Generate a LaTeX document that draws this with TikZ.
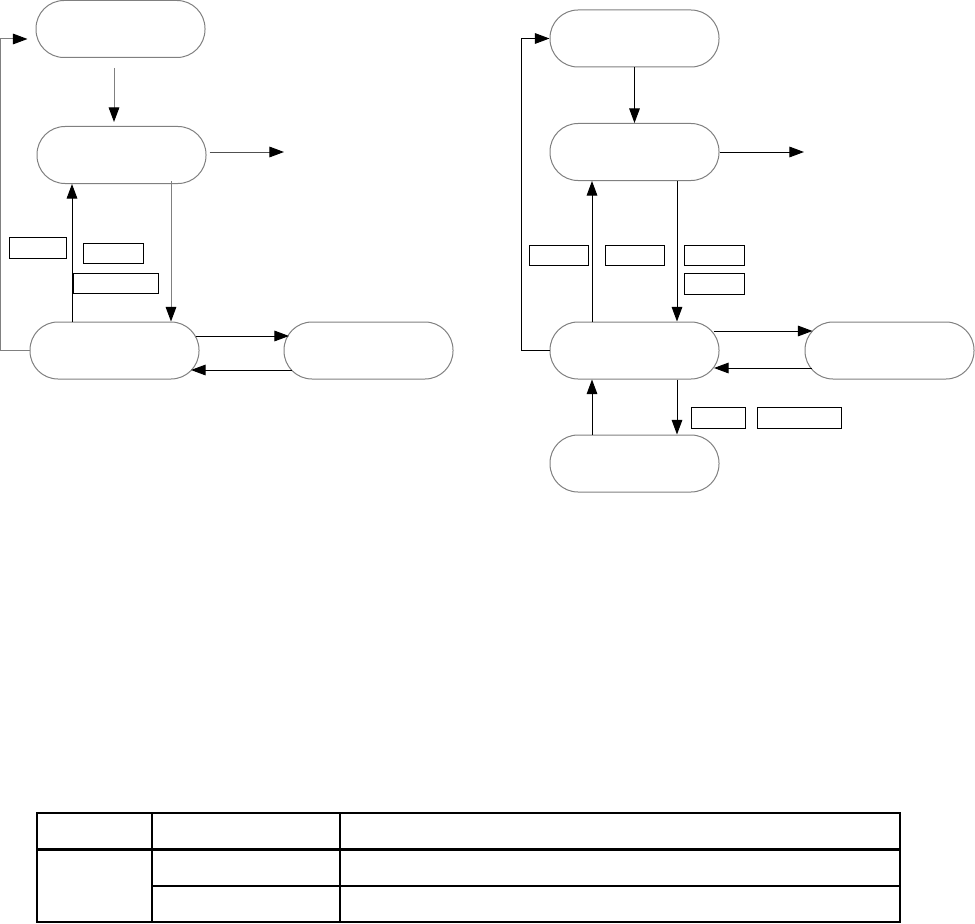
\documentclass[tikz,border=0pt]{standalone}
\usetikzlibrary{arrows.meta,calc}
\definecolor{lgray}{HTML}{808080}
\definecolor{dgray}{HTML}{505050}
\tikzset{
  state/.style={draw=lgray,line width=0.75pt,rectangle,rounded corners=21pt,minimum width=126.75pt,minimum height=42.75pt,inner sep=0pt},
  tag/.style={draw=black,line width=0.75pt,rectangle,inner sep=0pt,minimum height=15pt},
  arr/.style={line width=0.75pt,-{Triangle[length=11pt,width=8pt,color=black]}},
  tbl/.style={line width=1.6pt,line cap=rect}
}
\begin{document}
\begin{tikzpicture}[x=0.75pt,y=-0.75pt]
\useasboundingbox (0,0) rectangle (975,924);
% left diagram
\node[state] (L1) at (120.5,29) {};
\node[state] (L2) at (121.5,155) {};
\node[state] (L3) at (114.5,350.5) {};
\node[state] (L4) at (368.5,350.5) {};
\coordinate (Lout) at (284,152);
\draw[arr,lgray] ($(L1.south)+(-6.5,10)$) -- ($(L2.north)+(-7.5,-4)$);
\draw[arr,dgray] ($(L2.east)+(3,-3)$) -- (Lout);
\draw[arr,black] ($(L3.north)+(-42.5,0)$) -- ($(L2.south)+(-49.5,0)$);
\draw[arr,lgray] ($(L2.south)+(49.5,-3)$) -- ($(L3.north)+(56.5,0)$);
\draw[arr,lgray] (L3.west) -- ++(-29,0) |- ($(L1.west)+(-8,10)$);
\draw[arr,black] ($(L3.center)+(81,-14.5)$) -- ($(L4.center)+(-79.5,-14.5)$);
\draw[arr,black] ($(L4.center)+(-76.5,19.5)$) -- ($(L3.center)+(76.5,19.5)$);
\node[tag,minimum width=42.75pt,minimum height=15.75pt] (lt1) at (37.5,247.5) {};
\node[tag,minimum width=45pt] (lt2) at (113,253) {};
\node[tag,minimum width=63.75pt] (lt3) at (115.5,283) {};
% right diagram
\node[state] (R1) at (634.5,38.5) {};
\node[state] (R2) at (634.5,152) {};
\node[state] (R3) at (634.5,350.5) {};
\node[state] (R4) at (889.5,350.5) {};
\node[state] (R5) at (634.5,463.5) {};
\coordinate (Rout) at (804,152);
\draw[arr] (R1.south) -- (R2.north);
\draw[arr] (R2.east) -- (Rout);
\draw[arr] ($(R3.north)+(-42.5,0)$) -- ($(R2.south)+(-42.5,0)$);
\draw[arr] ($(R2.south)+(42.5,0)$) -- ($(R3.north)+(42.5,0)$);
\draw[arr] (R3.west) -- ++(-28,0) |- (R1.west);
\draw[arr] ($(R3.center)+(79,-19.5)$) -- ($(R4.center)+(-77,-19.5)$);
\draw[arr] ($(R4.center)+(-78,17.5)$) -- ($(R3.center)+(79.5,17.5)$);
\draw[arr] ($(R5.north)+(-42.5,0)$) -- ($(R3.south)+(-42.5,0)$);
\draw[arr] ($(R3.south)+(42.5,0)$) -- ($(R5.north)+(42.5,0)$);
\node[tag,minimum width=44.25pt] (rt1) at (558.5,255) {};
\node[tag,minimum width=44.25pt] (rt2) at (634.5,255) {};
\node[tag,minimum width=45pt] (rt3) at (714,255) {};
\node[tag,minimum width=45pt,minimum height=15.75pt] (rt4) at (714,283.5) {};
\node[tag,minimum width=40.5pt,minimum height=15.75pt] (rt5) at (718,417.5) {};
\node[tag,minimum width=63pt,minimum height=15.75pt] (rt6) at (799,417.5) {};
% table
\draw[tbl] (37,813) rectangle (900,922);
\draw[tbl] (37,849.5) -- (900,849.5);
\draw[tbl] (152,886) -- (900,886);
\draw[tbl] (152,813) -- (152,922);
\draw[tbl] (340,813) -- (340,922);
\end{tikzpicture}
\end{document}
